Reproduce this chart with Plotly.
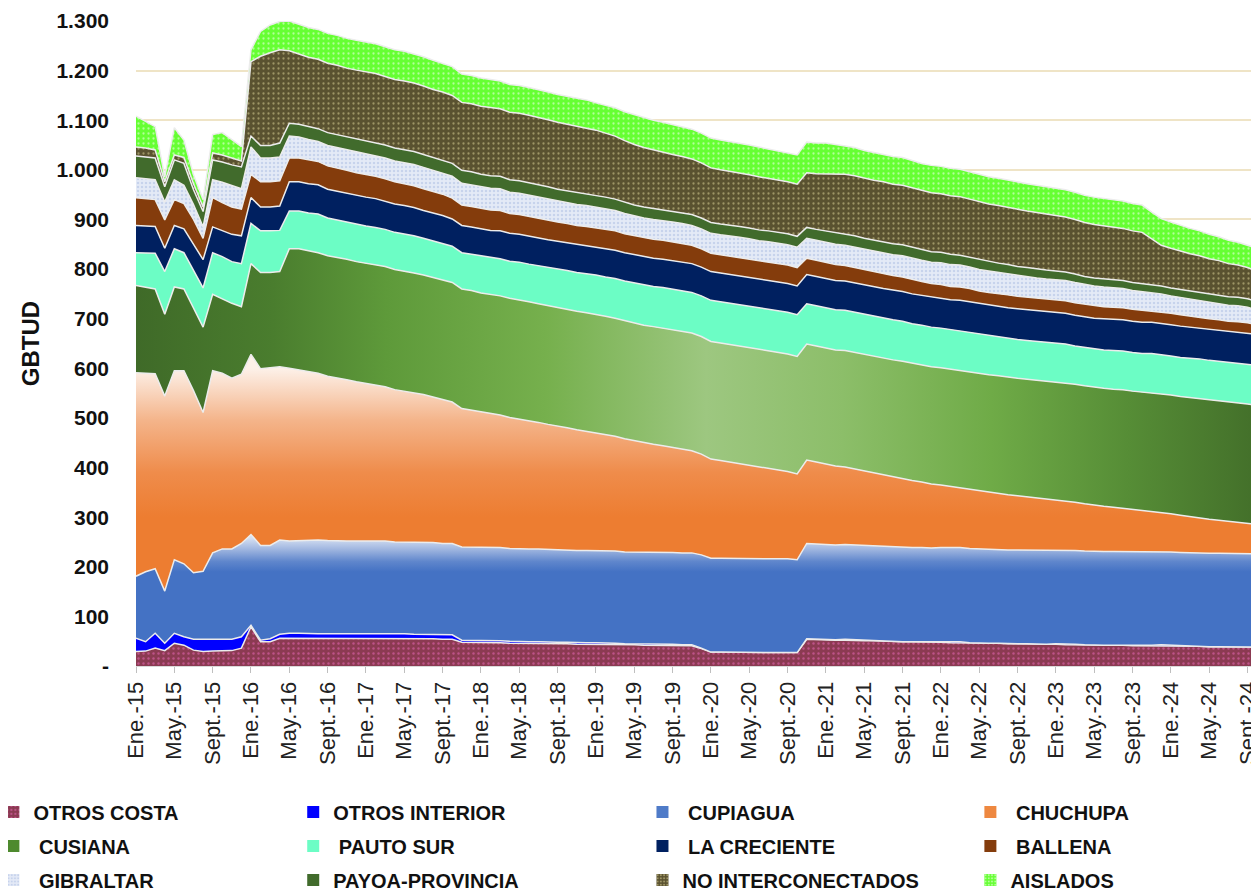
import plotly.graph_objects as go

# monthly categories Jan-2015 .. Dec-2024
meses = ["Ene.", "Feb.", "Mar.", "Abr.", "May.", "Jun.", "Jul.", "Ago.", "Sept.", "Oct.", "Nov.", "Dic."]
anios = ["15", "16", "17", "18", "19", "20", "21", "22", "23", "24"]
periodos = [f"{m}-{a}" for a in anios for m in meses]
etiquetas_x = periodos[::4]

y_ticks = [0, 100, 200, 300, 400, 500, 600, 700, 800, 900, 1000, 1100, 1200, 1300]
y_labels = ["-", "100", "200", "300", "400", "500", "600", "700", "800", "900",
            "1.000", "1.100", "1.200", "1.300"]

# GBTUD by field, one row per year
otros_costa = [
    29, 30, 36, 31, 46, 42, 32, 29, 30, 31, 31, 36,
    79, 49, 49, 56, 56, 56, 55, 55, 55, 55, 55, 56,
    56, 56, 56, 55, 55, 55, 55, 55, 54, 54, 48, 48,
    47, 47, 47, 46, 46, 46, 46, 45, 45, 45, 44, 44,
    44, 44, 43, 43, 43, 42, 42, 42, 42, 41, 41, 35,
    28, 28, 28, 28, 28, 28, 28, 28, 28, 27, 54, 53,
    53, 52, 52, 51, 51, 51, 50, 50, 49, 49, 49, 48,
    48, 47, 47, 47, 46, 46, 46, 45, 45, 45, 44, 44,
    44, 43, 43, 43, 42, 42, 42, 42, 41, 41, 41, 41,
    40, 40, 40, 40, 39, 39, 39, 39, 39, 38, 38, 38,
]
otros_interior = [
    27, 19, 30, 15, 20, 17, 22, 25, 24, 23, 23, 23,
    3, 3, 6, 8, 10, 10, 10, 10, 10, 10, 10, 10,
    10, 10, 10, 10, 10, 9, 9, 9, 9, 9, 4, 4,
    4, 4, 4, 4, 3, 3, 3, 3, 3, 3, 3, 3,
    3, 3, 3, 2, 2, 2, 2, 2, 2, 2, 2, 1,
    0, 0, 0, 0, 0, 0, 0, 0, 0, 0, 1, 1,
    0, 1, 2, 2, 1, 0, 0, 0, 0, 0, 0, 0,
    1, 2, 2, 0, 0, 0, 0, 0, 0, 0, 0, 0,
    1, 2, 1, 0, 0, 0, 0, 0, 0, 0, 1, 2,
    2, 1, 0, 0, 0, 0, 0, 0, 0, 0, 0, 0,
]
cupiagua = [
    125, 141, 130, 105, 148, 147, 134, 137, 174, 182, 182, 188,
    183, 191, 188, 190, 186, 187, 188, 189, 188, 187, 187, 186,
    186, 186, 186, 185, 185, 186, 186, 185, 184, 184, 188, 188,
    188, 188, 188, 187, 187, 187, 187, 187, 187, 186, 186, 186,
    186, 186, 186, 185, 185, 185, 185, 185, 185, 185, 185, 188,
    189, 189, 189, 189, 189, 188, 188, 188, 188, 187, 192, 192,
    192, 191, 191, 191, 191, 191, 191, 191, 191, 190, 190, 190,
    190, 190, 190, 190, 190, 189, 189, 189, 189, 189, 189, 189,
    189, 189, 189, 189, 189, 189, 189, 189, 189, 189, 189, 188,
    188, 188, 188, 188, 188, 188, 188, 188, 188, 188, 188, 188,
]
chuchupa = [
    410, 400, 393, 393, 381, 389, 367, 320, 367, 354, 344, 341,
    363, 356, 358, 349, 348, 344, 340, 336, 331, 329, 325, 321,
    318, 315, 311, 307, 304, 301, 297, 293, 290, 285, 279, 276,
    273, 270, 267, 264, 262, 258, 255, 252, 249, 246, 243, 240,
    237, 234, 231, 228, 224, 221, 218, 215, 212, 209, 206, 203,
    200, 197, 194, 191, 188, 185, 182, 179, 176, 173, 168, 165,
    162, 159, 156, 153, 150, 147, 144, 141, 138, 135, 132, 129,
    126, 123, 121, 119, 117, 115, 113, 111, 109, 107, 105, 103,
    101, 99, 97, 95, 93, 91, 89, 87, 85, 83, 81, 79,
    77, 75, 73, 71, 69, 67, 65, 63, 61, 59, 57, 55,
]
cusiana = [
    176, 173, 171, 165, 169, 165, 167, 172, 154, 150, 151, 136,
    183, 194, 192, 192, 241, 244, 244, 243, 243, 243, 243, 242,
    242, 242, 242, 242, 242, 241, 241, 241, 241, 241, 241, 241,
    240, 240, 240, 240, 240, 240, 239, 239, 239, 239, 239, 239,
    239, 238, 238, 238, 237, 237, 237, 237, 237, 237, 237, 237,
    237, 237, 237, 237, 237, 237, 237, 237, 237, 237, 234, 234,
    234, 234, 235, 235, 235, 235, 235, 235, 236, 236, 236, 236,
    236, 236, 236, 237, 237, 237, 237, 237, 237, 237, 238, 238,
    238, 238, 238, 238, 238, 238, 238, 239, 239, 239, 239, 239,
    239, 239, 240, 240, 240, 240, 240, 240, 240, 240, 240, 240,
]
pauto_sur = [
    66, 69, 72, 86, 77, 73, 75, 79, 84, 85, 84, 87,
    81, 84, 84, 83, 76, 76, 76, 78, 76, 75, 75, 75,
    75, 75, 75, 75, 75, 75, 74, 74, 74, 73, 73, 73,
    74, 74, 75, 75, 76, 76, 77, 77, 77, 78, 78, 79,
    79, 79, 80, 80, 81, 81, 81, 82, 82, 82, 82, 82,
    83, 83, 83, 83, 83, 83, 84, 84, 84, 84, 81, 81,
    81, 81, 81, 81, 81, 81, 81, 81, 81, 80, 80, 80,
    80, 80, 80, 80, 79, 79, 79, 79, 78, 78, 78, 78,
    78, 78, 77, 77, 77, 77, 78, 78, 78, 78, 79, 79,
    79, 79, 80, 80, 80, 80, 80, 81, 81, 81, 81, 81,
]
la_creciente = [
    55, 55, 54, 47, 47, 48, 53, 57, 52, 52, 55, 56,
    52, 48, 48, 49, 59, 59, 59, 59, 58, 58, 58, 58,
    58, 58, 57, 57, 57, 57, 56, 56, 56, 55, 55, 55,
    55, 55, 56, 56, 56, 56, 56, 56, 56, 56, 56, 56,
    56, 57, 57, 57, 57, 57, 57, 57, 57, 58, 58, 58,
    58, 58, 58, 58, 58, 58, 58, 58, 58, 58, 59, 59,
    59, 59, 59, 59, 59, 59, 60, 60, 60, 60, 60, 60,
    60, 60, 61, 61, 61, 61, 61, 61, 62, 62, 62, 62,
    62, 62, 62, 62, 62, 63, 63, 63, 63, 63, 63, 63,
    63, 63, 62, 62, 62, 62, 62, 62, 62, 62, 62, 62,
]
ballena = [
    56, 55, 54, 57, 52, 51, 50, 43, 59, 57, 55, 54,
    47, 51, 51, 51, 48, 48, 48, 47, 47, 47, 46, 46,
    46, 45, 45, 45, 44, 44, 44, 43, 43, 42, 41, 41,
    41, 41, 41, 40, 40, 40, 40, 40, 39, 39, 39, 39,
    39, 39, 39, 38, 38, 38, 38, 38, 38, 38, 37, 37,
    37, 37, 37, 37, 37, 37, 37, 37, 37, 37, 33, 33,
    33, 32, 31, 31, 30, 30, 30, 29, 29, 29, 28, 28,
    28, 27, 27, 27, 26, 26, 26, 26, 25, 25, 25, 25,
    25, 25, 25, 25, 25, 24, 24, 24, 24, 24, 23, 23,
    23, 23, 22, 22, 22, 22, 21, 21, 21, 20, 20, 20,
]
gibraltar = [
    40, 40, 40, 36, 40, 37, 30, 23, 36, 41, 43, 41,
    55, 48, 48, 48, 44, 42, 41, 40, 41, 41, 41, 42,
    42, 42, 42, 42, 43, 43, 43, 43, 43, 44, 44, 44,
    44, 44, 44, 43, 43, 43, 43, 42, 42, 42, 42, 42,
    42, 41, 41, 41, 40, 40, 40, 40, 40, 40, 40, 40,
    40, 40, 41, 41, 41, 41, 41, 41, 41, 41, 40, 40,
    40, 41, 41, 41, 42, 42, 42, 42, 43, 43, 43, 43,
    44, 44, 44, 43, 43, 43, 42, 42, 42, 42, 41, 41,
    41, 41, 41, 40, 40, 40, 39, 39, 38, 38, 37, 36,
    35, 35, 34, 34, 33, 33, 32, 32, 31, 30, 30, 30,
]
payoa_provincia = [
    44, 44, 44, 31, 40, 44, 30, 31, 40, 41, 42, 44,
    22, 25, 25, 28, 26, 26, 26, 26, 26, 26, 26, 26,
    26, 26, 26, 26, 26, 26, 26, 26, 26, 26, 26, 26,
    25, 25, 25, 25, 25, 25, 25, 25, 24, 24, 24, 24,
    24, 24, 23, 23, 22, 22, 22, 22, 22, 22, 22, 22,
    22, 22, 22, 22, 22, 22, 22, 22, 22, 22, 22, 22,
    23, 23, 23, 23, 22, 22, 22, 22, 22, 22, 21, 21,
    21, 21, 20, 20, 20, 19, 19, 19, 18, 18, 18, 18,
    17, 17, 17, 16, 16, 16, 16, 16, 16, 16, 16, 16,
    16, 16, 17, 17, 17, 17, 17, 17, 17, 17, 17, 17,
]
no_interconectados = [
    18, 18, 16, 10, 10, 12, 12, 9, 14, 14, 14, 12,
    150, 180, 187, 188, 146, 142, 140, 140, 140, 140, 139, 139,
    139, 139, 138, 138, 138, 138, 138, 137, 137, 137, 137, 137,
    137, 137, 136, 136, 136, 136, 135, 135, 135, 134, 134, 133,
    131, 129, 127, 124, 122, 120, 118, 116, 114, 113, 112, 111,
    110, 109, 108, 108, 107, 107, 106, 106, 105, 105, 110, 112,
    115, 118, 120, 121, 121, 121, 121, 120, 120, 120, 119, 119,
    118, 118, 118, 117, 117, 116, 116, 115, 115, 114, 114, 113,
    112, 111, 110, 109, 108, 107, 106, 105, 104, 103, 92, 82,
    80, 77, 75, 73, 71, 69, 67, 65, 63, 61, 59, 57,
]
aislados = [
    62, 54, 47, 10, 55, 35, 18, 15, 37, 45, 37, 29,
    24, 50, 56, 57, 60, 60, 60, 60, 60, 60, 60, 60,
    60, 60, 60, 60, 60, 59, 59, 59, 58, 58, 57, 57,
    57, 57, 56, 56, 56, 56, 56, 56, 56, 56, 56, 56,
    55, 56, 57, 58, 60, 60, 60, 60, 60, 60, 60, 60,
    60, 60, 60, 60, 60, 60, 59, 59, 59, 59, 62, 62,
    62, 60, 58, 57, 56, 56, 56, 56, 56, 55, 55, 55,
    55, 55, 55, 55, 55, 55, 55, 55, 55, 55, 55, 55,
    55, 55, 55, 55, 55, 55, 55, 55, 55, 55, 54, 54,
    53, 52, 51, 50, 49, 48, 47, 46, 45, 45, 44, 44,
]

FONT = "Liberation Sans, Arial, sans-serif"
BORDE = "#ECECEC"

def dots(bg, fg, size, solidity):
    return dict(shape=".", bgcolor=bg, fgcolor=fg, size=size, solidity=solidity)

# (name, values, area style, legend swatch, legend id)
series = [
    ("OTROS COSTA", otros_costa,
     dict(fillpattern=dots("#8B3A52", "#F06AC0", 5, 0.18)),
     dict(color="#8B3A52", pattern=dict(shape=".", bgcolor="#8B3A52", fgcolor="#F06AC0", size=5, solidity=0.25)),
     "legend"),
    ("OTROS INTERIOR", otros_interior, dict(fillcolor="#0000FF"), dict(color="#0000FF"), "legend2"),
    ("\u00a0CUPIAGUA", cupiagua,
     dict(fillgradient=dict(type="vertical", start=190, stop=258,
                            colorscale=[[0, "#4472C4"], [0.3, "#5F86CC"], [0.65, "#9DB4DF"], [1, "#D6E0F2"]])),
     dict(color="#4F7BC8"), "legend3"),
    ("\u00a0CHUCHUPA", chuchupa,
     dict(fillgradient=dict(type="vertical", start=300, stop=600,
                            colorscale=[[0, "#ED7D31"], [0.3, "#EF8C4B"], [0.65, "#F4B48A"], [1, "#FDF1E9"]])),
     dict(color="#EE8840"), "legend4"),
    ("\u00a0CUSIANA", cusiana,
     dict(fillgradient=dict(type="horizontal", start=0, stop=119,
                            colorscale=[[0, "#3F6A28"], [0.12, "#4A7D2E"], [0.22, "#5E9A3A"],
                                        [0.36, "#76B04D"], [0.5, "#9DC780"], [0.62, "#8CBE69"],
                                        [0.75, "#6FAB47"], [0.87, "#568D36"], [1, "#406B28"]])),
     dict(color="#4E8A2E"), "legend"),
    ("\u00a0PAUTO SUR", pauto_sur, dict(fillcolor="#6CFDC5"), dict(color="#6CFDC5"), "legend2"),
    ("\u00a0LA CRECIENTE", la_creciente, dict(fillcolor="#002060"), dict(color="#002060"), "legend3"),
    ("\u00a0BALLENA", ballena, dict(fillcolor="#843C0C"), dict(color="#843C0C"), "legend4"),
    ("\u00a0GIBRALTAR", gibraltar,
     dict(fillpattern=dots("#E4EAF6", "#A9BCE2", 4, 0.3)),
     dict(color="#DCE4F4", pattern=dict(shape=".", bgcolor="#E4EAF6", fgcolor="#A9BCE2", size=4, solidity=0.35)),
     "legend"),
    ("PAYOA-PROVINCIA", payoa_provincia, dict(fillcolor="#416B2C"), dict(color="#416B2C"), "legend2"),
    ("NO INTERCONECTADOS", no_interconectados,
     dict(fillpattern=dots("#5A5230", "#E2D79A", 5, 0.16)),
     dict(color="#5A5230", pattern=dict(shape=".", bgcolor="#5A5230", fgcolor="#E2D79A", size=4, solidity=0.3)),
     "legend3"),
    ("AISLADOS", aislados,
     dict(fillpattern=dots("#66FF33", "#FFFFFF", 5, 0.16)),
     dict(color="#66FF33", pattern=dict(shape=".", bgcolor="#66FF33", fgcolor="#FFFFFF", size=4, solidity=0.3)),
     "legend4"),
]

fig = go.Figure()

for name, vals, area, swatch, leg in series:
    fig.add_trace(go.Scatter(
        x=periodos, y=vals, name=name.strip(), stackgroup="gas", mode="lines",
        line=dict(color=BORDE, width=1.5), showlegend=False,
        hovertemplate="%{x}: %{y}<extra>" + name.strip() + "</extra>",
        **area
    ))

# legend swatches (square markers like the original)
for leg in ["legend", "legend2", "legend3", "legend4"]:
    for name, vals, area, swatch, l in series:
        if l != leg:
            continue
        fig.add_trace(go.Bar(
            x=[None], y=[None], name=name, legend=leg, legendgroup=name,
            marker=dict(line=dict(width=0), **swatch), hoverinfo="skip",
        ))

legend_font = dict(family=FONT, size=20, color="#111111", weight="bold")
legend_common = dict(orientation="v", yanchor="top", xanchor="left", y=-0.196,
                     font=legend_font, tracegroupgap=5, bgcolor="rgba(0,0,0,0)",
                     traceorder="grouped")

# the page body adds an 8px offset, so the figure is drawn 8px smaller
fig.update_layout(
    width=1251, height=885,
    margin=dict(l=128, r=0, t=13, b=227, autoexpand=False),
    paper_bgcolor="white", plot_bgcolor="white",
    font=dict(family=FONT, color="#111111"),
    showlegend=True,
    legend=dict(x=-0.127, **legend_common),
    legend2=dict(x=0.140, **legend_common),
    legend3=dict(x=0.451, **legend_common),
    legend4=dict(x=0.743, **legend_common),
    xaxis=dict(
        type="category", range=[0, 117.2], automargin=False,
        tickmode="array", tickvals=etiquetas_x, ticktext=etiquetas_x,
        tickangle=-90, tickfont=dict(family=FONT, size=22, color="#222222"),
        ticks="outside", ticklen=6, tickcolor="#BFBFBF",
        showline=True, linecolor="#D9D9D9", linewidth=1,
        showgrid=False, zeroline=False,
    ),
    yaxis=dict(
        range=[0, 1300], automargin=False,
        tickmode="array", tickvals=y_ticks, ticktext=y_labels,
        tickfont=dict(family=FONT, size=21, color="#111111", weight="bold"),
        ticklabelstandoff=26,
        gridcolor="#EFE4C6", gridwidth=1.5, zeroline=False, showline=False,
        title=dict(text="GBTUD", standoff=10,
                   font=dict(family=FONT, size=24, color="#111111", weight="bold")),
    ),
)

fig.write_html("out.html")
